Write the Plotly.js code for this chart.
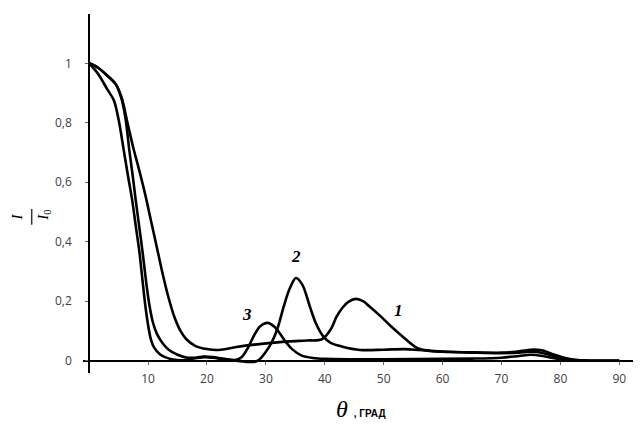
<!DOCTYPE html>
<html>
<head>
<meta charset="utf-8">
<script src="https://cdn.plot.ly/plotly-3.0.1.min.js"></script>
<style>
  html, body { margin: 0; padding: 0; background: #fff; }
  #chart { width: 642px; height: 446px; }
</style>
</head>
<body>
<div id="chart"></div>
<script>
// Curve 1: slowest decay, peak near 45 deg
const theta1 = [0, 1.5, 3, 4.5, 5.5, 6.5, 7.5, 8.5, 9.5, 10.5, 11.5, 12.5, 13.5, 14.5, 15.5, 16.5, 18, 20, 22,
    25, 28, 31, 34, 37, 39.5, 41, 42, 43, 44, 45.3, 46.5, 47.5, 49.5, 51, 53, 55.5, 57.5, 60, 65, 70,
    72.5, 75, 77, 79, 81, 83, 85, 90];
const int1 = [1, 0.985, 0.96, 0.93, 0.885, 0.8, 0.715, 0.64, 0.56, 0.47, 0.38, 0.29, 0.21, 0.145, 0.1, 0.072, 0.05, 0.039, 0.036,
    0.046, 0.054, 0.06, 0.065, 0.068, 0.072, 0.105, 0.148, 0.178, 0.198, 0.208, 0.2, 0.184, 0.149, 0.12, 0.085, 0.045, 0.034, 0.031, 0.028, 0.027,
    0.03, 0.037, 0.034, 0.02, 0.008, 0.002, 0, 0];

// Curve 2: fastest decay, peak near 35 deg
const theta2 = [0, 1.5, 3, 4.2, 5, 5.85, 6.6, 7.3, 8, 8.5, 9, 9.5, 10, 10.5, 11, 12, 13, 14, 15.5, 17, 19.5, 21, 23, 25,
    27, 28.3, 29, 30, 31, 32, 33, 34, 35.1, 36.2, 37.5, 38.5, 39.8, 41, 43, 46, 50, 53.5, 56, 60, 65, 70,
    73, 75, 77, 79, 81, 83, 85, 90];
const int2 = [1, 0.965, 0.915, 0.875, 0.81, 0.71, 0.62, 0.54, 0.44, 0.37, 0.28, 0.19, 0.12, 0.07, 0.045, 0.022, 0.011, 0.005, 0.001, 0.005, 0.012, 0.01, 0.004, 0,
    -0.004, -0.003, 0.006, 0.03, 0.062, 0.11, 0.18, 0.24, 0.278, 0.255, 0.18, 0.125, 0.08, 0.06, 0.047, 0.036, 0.037, 0.039, 0.036, 0.03, 0.027, 0.025,
    0.027, 0.03, 0.026, 0.015, 0.005, 0.001, 0, 0];

// Curve 3: middle decay, peak near 30 deg
const theta3 = [0, 1.5, 3, 4.5, 5.5, 6.2, 6.8, 7.4, 7.9, 8.5, 9.1, 9.7, 10.2, 10.8, 11.5, 12.5, 13.5, 15, 16.5, 18, 19.5, 21, 23, 25,
    26, 27, 28, 29, 30.3, 31.5, 32.5, 33.5, 34.5, 36, 38, 40, 45, 50, 60, 65, 70,
    73, 75, 77, 79, 81, 83, 90];
const int3 = [1, 0.985, 0.96, 0.93, 0.88, 0.81, 0.71, 0.62, 0.54, 0.45, 0.36, 0.26, 0.19, 0.13, 0.09, 0.058, 0.037, 0.02, 0.011, 0.01, 0.014, 0.012, 0.006, 0.003,
    0.014, 0.045, 0.085, 0.115, 0.127, 0.113, 0.088, 0.06, 0.038, 0.018, 0.009, 0.006, 0.005, 0.005, 0.006, 0.007, 0.01,
    0.016, 0.02, 0.016, 0.008, 0.002, 0, 0];

const xTicks = [10, 20, 30, 40, 50, 60, 70, 80, 90];
const yTicks = [0, 0.2, 0.4, 0.6, 0.8, 1];
const yTickText = ['0', '0,2', '0,4', '0,6', '0,8', '1'];

// curve number labels: [text, theta, value]
const curveLabels = [['1', 52.6, 0.17], ['2', 35.1, 0.35], ['3', 26.8, 0.154]];

const xRange = [-1.05, 92.33];
const yRange = [-0.0414, 1.1658];

function curve(x, y) {
    return {
        type: 'scatter',
        mode: 'lines',
        x: x,
        y: y,
        line: { color: '#000', width: 2.6, shape: 'spline', smoothing: 0.9 },
        hoverinfo: 'skip'
    };
}

const tickFont = { family: 'Open Sans, sans-serif', size: 12, color: '#404040' };
const serif = 'Liberation Serif, serif';

const annotations = curveLabels.map(([t, x, y]) => ({
    x: x, y: y, xref: 'x', yref: 'y',
    text: '<b><i>' + t + '</i></b>',
    showarrow: false,
    font: { family: serif, size: 17, color: '#000' }
}));

// y title: I over I0, turned on its side; the fraction bar is a shape below
annotations.push({
    xref: 'paper', yref: 'paper', x: -0.1205, y: 0.435,
    xanchor: 'center', yanchor: 'middle', textangle: -90,
    text: '<i>I</i>', showarrow: false,
    font: { family: serif, size: 15, color: '#000' }
});
annotations.push({
    xref: 'paper', yref: 'paper', x: -0.0715, y: 0.44,
    xanchor: 'center', yanchor: 'middle', textangle: -90,
    text: '<i>I</i><sub>0</sub>', showarrow: false,
    font: { family: serif, size: 15, color: '#000' }
});

// x title
annotations.push({
    xref: 'paper', yref: 'paper', x: 0.456, y: -0.1,
    xanchor: 'left', yanchor: 'middle',
    text: '<i>θ</i> <span style="font-family:Liberation Sans, sans-serif;font-size:10px;font-weight:bold">, ГРАД</span>',
    showarrow: false,
    font: { family: serif, size: 24, color: '#000' }
});

const layout = {
    width: 642,
    height: 446,
    paper_bgcolor: '#fff',
    plot_bgcolor: '#fff',
    margin: { l: 83, r: 9, t: 14, b: 73 },
    showlegend: false,
    xaxis: {
        range: xRange,
        anchor: 'free',
        position: (0 - yRange[0]) / (yRange[1] - yRange[0]),
        showgrid: false,
        zeroline: false,
        showline: true,
        linecolor: '#000',
        linewidth: 2,
        ticks: 'outside',
        ticklen: 3,
        tickwidth: 1,
        tickcolor: '#666',
        tickvals: xTicks,
        tickfont: tickFont,
        ticklabelstandoff: 4
    },
    yaxis: {
        range: yRange,
        anchor: 'free',
        position: (0 - xRange[0]) / (xRange[1] - xRange[0]),
        showgrid: false,
        zeroline: false,
        showline: true,
        linecolor: '#000',
        linewidth: 2,
        ticks: 'outside',
        ticklen: 3,
        tickwidth: 1,
        tickcolor: '#666',
        tickvals: yTicks,
        ticktext: yTickText,
        tickfont: tickFont,
        ticklabelstandoff: 11
    },
    shapes: [{
        type: 'line', xref: 'paper', yref: 'paper',
        x0: -0.0933, x1: -0.0933, y0: 0.413, y1: 0.457,
        line: { color: '#333', width: 1.5 }
    }],
    annotations: annotations
};

Plotly.newPlot('chart', [curve(theta1, int1), curve(theta2, int2), curve(theta3, int3)], layout,
    { displayModeBar: false, staticPlot: true });
</script>
</body>
</html>
